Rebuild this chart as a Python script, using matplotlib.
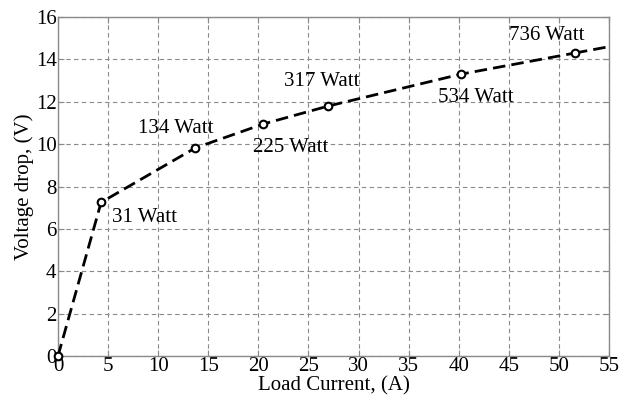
import numpy as np
import matplotlib.pyplot as plt

plt.rcParams['font.family'] = ['Liberation Serif', 'DejaVu Serif']

# measured points
current = [0, 4.3, 13.7, 20.5, 27.0, 40.2, 51.6]
voltage = [0, 7.25, 9.82, 10.95, 11.8, 13.3, 14.3]
# tail of the dashed curve past the last marker
tail_x = [51.6, 55]
tail_y = [14.3, 14.6]

labels = ['31 Watt', '134 Watt', '225 Watt', '317 Watt', '534 Watt', '736 Watt']
label_x = [5.4, 11.8, 23.2, 26.3, 41.7, 48.8]
label_y = [6.55, 10.75, 9.85, 12.95, 12.2, 15.15]
label_ha = ['left', 'center', 'center', 'center', 'center', 'center']

fig = plt.figure(figsize=(6.21, 4.05), dpi=100)
ax = fig.add_axes([58 / 621, 1 - 356 / 405, 551 / 621, 339 / 405])

ax.plot(tail_x, tail_y, ls='--', color='black', lw=2, dashes=(4.5, 2.2), zorder=3)
ax.plot(current, voltage, ls='--', color='black', lw=2, dashes=(4.5, 2.2),
        marker='o', ms=5.5, mfc='white', mec='black', mew=1.5, zorder=3,
        clip_on=False)

for t, x, y, ha in zip(labels, label_x, label_y, label_ha):
    ax.text(x, y, t, ha=ha, va='center', fontsize=15)

ax.set_xlim(0, 55)
ax.set_ylim(0, 16)
ax.set_xticks(np.arange(0, 56, 5))
ax.set_yticks(np.arange(0, 17, 2))
ax.grid(True, ls=(0, (4, 3)), color='#8a8a8a', lw=0.8)
ax.tick_params(direction='in', labelsize=15, color='#8a8a8a', length=4, pad=1,
               top=True, right=True)
for s in ax.spines.values():
    s.set_color('#8a8a8a')
    s.set_linewidth(1.0)

ax.set_xlabel('Load Current, (A)', fontsize=15, labelpad=0)
ax.set_ylabel('Voltage drop, (V)', fontsize=15, labelpad=1)

fig.savefig('out.png', dpi=100)
